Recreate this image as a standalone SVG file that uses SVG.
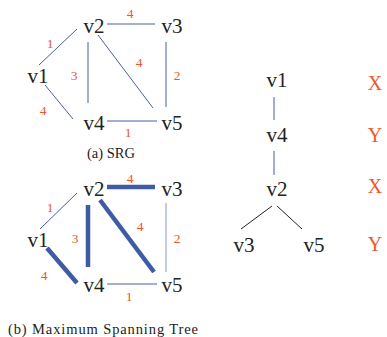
<svg xmlns="http://www.w3.org/2000/svg" width="387" height="337" viewBox="0 0 387 337">
<style>
text{font-family:'Liberation Serif','DejaVu Serif',serif}
.n{font-size:21px;fill:#222;text-anchor:middle}
.w{font-size:13.5px;fill:#f0562a;text-anchor:middle}
.c{font-size:14.5px;fill:#222;text-anchor:middle}
.xy{font-size:20px;fill:#f0562a;text-anchor:middle}
.e{stroke:#4a5ea6;stroke-width:1;fill:none}
.t{stroke:#3f5ba3;stroke-width:4.5;fill:none}
.l{stroke:#a2afd6;stroke-width:1.3;fill:none}
.k{stroke:#222;stroke-width:1;fill:none}
</style>
<rect width="387" height="337" fill="#fff"/>
<g id="connectors">
<line class="e" x1="107" y1="24" x2="155" y2="24"/>
<line class="e" x1="39" y1="65" x2="77" y2="29"/>
<line class="e" x1="88" y1="42" x2="88" y2="103"/>
<line class="e" x1="98" y1="35" x2="153" y2="108"/>
<line class="e" x1="166" y1="42" x2="166" y2="107"/>
<line class="e" x1="45" y1="85" x2="73" y2="119"/>
<line class="e" x1="107" y1="121" x2="157" y2="121"/>
<line class="t" x1="107" y1="187" x2="155" y2="187"/>
<line class="e" x1="40" y1="229" x2="77" y2="193"/>
<line class="t" x1="88" y1="205" x2="88" y2="267"/>
<line class="t" x1="100" y1="200" x2="154" y2="272"/>
<line class="l" x1="166" y1="203" x2="166" y2="272"/>
<line class="t" x1="47" y1="248" x2="77" y2="283"/>
<line class="e" x1="107" y1="284" x2="157" y2="284"/>
<line class="e" x1="274" y1="97" x2="274" y2="120"/>
<line class="e" x1="274" y1="151" x2="274" y2="175"/>
<line class="k" x1="272" y1="206" x2="241" y2="229"/>
<line class="k" x1="277" y1="206" x2="302" y2="229"/>
</g>
<g id="weights-a">
<text class="w" x="130" y="18">4</text>
<text class="w" x="50" y="48">1</text>
<text class="w" x="74" y="80">3</text>
<text class="w" x="139" y="67">4</text>
<text class="w" x="177" y="80">2</text>
<text class="w" x="43" y="115">4</text>
<text class="w" x="128" y="137">1</text>
</g>
<g id="weights-b">
<text class="w" x="130" y="183">4</text>
<text class="w" x="50" y="212">1</text>
<text class="w" x="75" y="243">3</text>
<text class="w" x="140" y="231">4</text>
<text class="w" x="177" y="243">2</text>
<text class="w" x="44" y="280">4</text>
<text class="w" x="129" y="301">1</text>
</g>
<g id="a-v1"><text class="n" x="38" y="83">v1</text></g>
<g id="a-v2"><text class="n" x="94" y="33">v2</text></g>
<g id="a-v3"><text class="n" x="172" y="33">v3</text></g>
<g id="a-v4"><text class="n" x="94" y="130">v4</text></g>
<g id="a-v5"><text class="n" x="172" y="130">v5</text></g>
<g id="b-v1"><text class="n" x="38" y="247">v1</text></g>
<g id="b-v2"><text class="n" x="94" y="196">v2</text></g>
<g id="b-v3"><text class="n" x="172" y="196">v3</text></g>
<g id="b-v4"><text class="n" x="94" y="292">v4</text></g>
<g id="b-v5"><text class="n" x="172" y="292">v5</text></g>
<g id="t-v1"><text class="n" x="277" y="87">v1</text></g>
<g id="t-v4"><text class="n" x="277" y="142">v4</text></g>
<g id="t-v2"><text class="n" x="277" y="196">v2</text></g>
<g id="t-v3"><text class="n" x="244" y="252">v3</text></g>
<g id="t-v5"><text class="n" x="314" y="252">v5</text></g>
<g id="labels">
<text class="xy" x="375" y="90">X</text>
<text class="xy" x="375" y="142">Y</text>
<text class="xy" x="375" y="193">X</text>
<text class="xy" x="375" y="251">Y</text>
<text class="c" x="111" y="158">(a) SRG</text>
<text class="c" x="103" y="334" textLength="190" lengthAdjust="spacing">(b) Maximum Spanning Tree</text>
</g>
</svg>
